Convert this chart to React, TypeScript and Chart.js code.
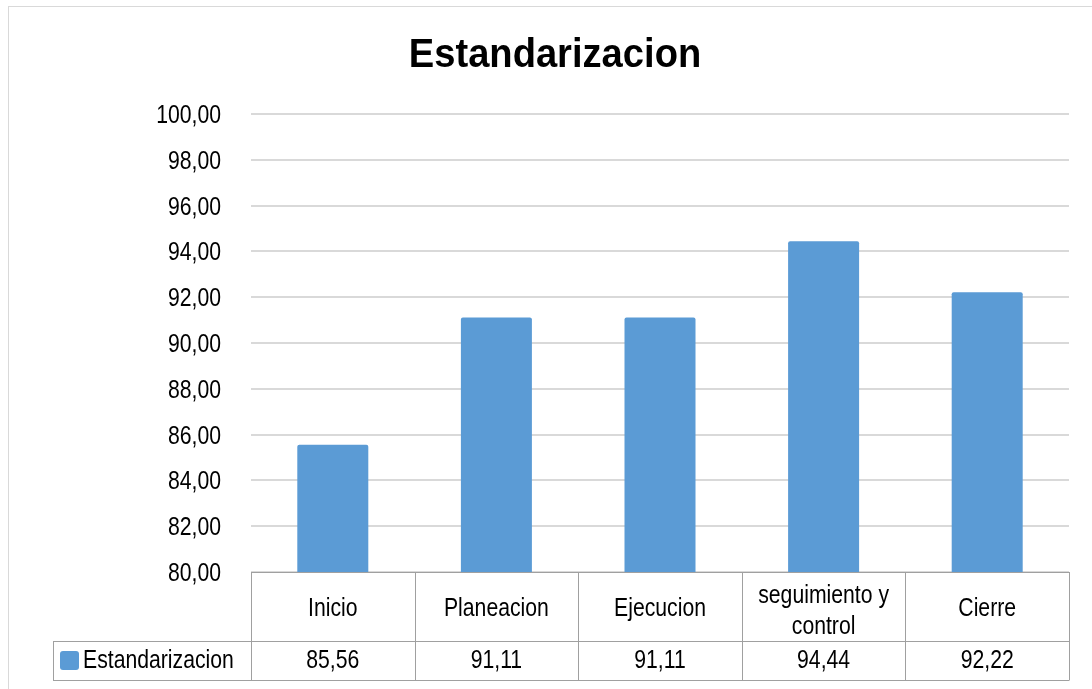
import React, { useEffect, useRef } from "react";
import { Chart, registerables } from "chart.js";

Chart.register(...registerables);

const TITLE = "Estandarizacion";
const SERIES_NAME = "Estandarizacion";
const categories: (string | string[])[] = ["Inicio", "Planeacion", "Ejecucion", ["seguimiento y", "control"], "Cierre"];
const values = [85.56, 91.11, 91.11, 94.44, 92.22];
const valueLabels = ["85,56", "91,11", "91,11", "94,44", "92,22"];
const yMin = 80;
const yMax = 100;
const yStep = 2;

const FONT = "'Liberation Sans', Arial, sans-serif";
const BAR = "#5b9bd5";
const LINE = "#a0a0a0";
const SX = 0.8; // narrow text look
const TITLE_SX = 0.93;

function txt(ctx: CanvasRenderingContext2D, s: string, x: number, y: number, align: CanvasTextAlign, font: string, sx: number) {
  ctx.save();
  ctx.translate(x, y);
  ctx.scale(sx, 1);
  ctx.font = font;
  ctx.textAlign = align;
  ctx.textBaseline = "alphabetic";
  ctx.fillStyle = "#000";
  ctx.fillText(s, 0, 0);
  ctx.restore();
}

const textPlugin = {
  id: "textAndTable",
  afterDraw(chart: any) {
    const { ctx, chartArea } = chart;
    const yScale = chart.scales.y;
    const body = `26.5px ${FONT}`;

    // title
    txt(ctx, TITLE, 555, 67, "center", `bold 41px ${FONT}`, TITLE_SX);

    // y tick labels
    for (const t of yScale.ticks) {
      const py = yScale.getPixelForValue(t.value);
      txt(ctx, Number(t.value).toFixed(2).replace(".", ","), chartArea.left - 30, py + 9, "right", body, SX);
    }

    // data table
    const left = chartArea.left;
    const right = chartArea.right;
    const top = chartArea.bottom;
    const mid = top + 69;
    const bottom = top + 108;
    const legendLeft = 53;
    const n = categories.length;
    const w = (right - left) / n;
    ctx.save();
    ctx.strokeStyle = LINE;
    ctx.lineWidth = 1;
    const h = (x1: number, x2: number, y: number) => {
      ctx.beginPath();
      ctx.moveTo(x1, Math.round(y) + 0.5);
      ctx.lineTo(x2, Math.round(y) + 0.5);
      ctx.stroke();
    };
    const v = (x: number, y1: number, y2: number) => {
      ctx.beginPath();
      ctx.moveTo(Math.round(x) + 0.5, y1);
      ctx.lineTo(Math.round(x) + 0.5, y2);
      ctx.stroke();
    };
    h(left, right, top);
    h(legendLeft, right, mid);
    h(legendLeft, right, bottom);
    v(legendLeft, mid, bottom);
    for (let i = 0; i <= n; i++) v(left + i * w, top, bottom + 0.5);
    ctx.restore();

    for (let i = 0; i < n; i++) {
      const cx = left + (i + 0.5) * w;
      const c = categories[i];
      if (Array.isArray(c)) {
        txt(ctx, c[0], cx, top + 31, "center", body, SX);
        txt(ctx, c[1], cx, top + 62, "center", body, SX);
      } else {
        txt(ctx, c, cx, top + 44, "center", body, SX);
      }
      txt(ctx, valueLabels[i], cx, mid + 27, "center", body, SX);
    }
    // legend key
    ctx.save();
    ctx.fillStyle = BAR;
    ctx.beginPath();
    (ctx as any).roundRect(60, mid + 10, 19, 19, 3);
    ctx.fill();
    ctx.restore();
    txt(ctx, SERIES_NAME, 83, mid + 27, "left", body, SX);
  },
};

export default function App() {
  const ref = useRef<HTMLCanvasElement>(null);
  useEffect(() => {
    if (!ref.current) return;
    const chart = new Chart(ref.current, {
      type: "bar",
      data: {
        labels: categories as any,
        datasets: [
          {
            label: SERIES_NAME,
            data: values,
            backgroundColor: BAR,
            borderWidth: 0,
            borderRadius: 2,
            borderSkipped: "bottom",
            categoryPercentage: 1,
            barPercentage: 0.434,
          },
        ],
      },
      options: {
        animation: false,
        responsive: false,
        devicePixelRatio: 1,
        layout: { padding: { left: 39, right: 23, top: 114, bottom: 117 } },
        plugins: {
          legend: { display: false },
          tooltip: { enabled: false },
          title: { display: false },
        },
        scales: {
          x: { display: false },
          y: {
            min: yMin,
            max: yMax,
            border: { display: false },
            grid: { color: "#d9d9d9", lineWidth: 2, drawTicks: false },
            ticks: { display: false, stepSize: yStep },
            afterFit: (s: any) => {
              s.width = 212;
            },
          },
        },
      },
      plugins: [textPlugin],
    });
    return () => chart.destroy();
  }, []);
  return (
    <div style={{ position: "fixed", left: 0, top: 0, width: 1092, height: 689, background: "#fff", overflow: "hidden" }}>
      <div style={{ position: "absolute", left: 8, top: 6, width: 1120, height: 720, border: "1px solid #d9d9d9", boxSizing: "border-box" }} />
      <canvas ref={ref} width={1092} height={689} style={{ position: "absolute", left: 0, top: 0, width: 1092, height: 689 }} />
    </div>
  );
}
